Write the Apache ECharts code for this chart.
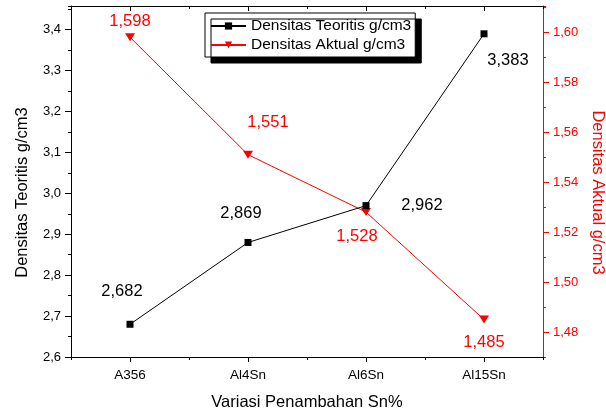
<!DOCTYPE html>
<html>
<head>
<meta charset="utf-8">
<style>
    html, body { margin: 0; padding: 0; background: #fff; }
    #chart { width: 606px; height: 414px; }
</style>
</head>
<body>
<div id="chart"></div>
<script src="https://cdn.jsdelivr.net/npm/echarts@6/dist/echarts.min.js"></script>
<script>
// 数据
const categories = ['A356', 'Al4Sn', 'Al6Sn', 'Al15Sn'];
const teoritisValues = [2.68, 2.88, 2.97, 3.39];
const teoritisLabels = ['2,682', '2,869', '2,962', '3,383'];
const aktualValues = [1.598, 1.551, 1.528, 1.485];
const aktualLabels = ['1,598', '1,551', '1,528', '1,485'];
const leftTicks = [2.6, 2.7, 2.8, 2.9, 3.0, 3.1, 3.2, 3.3, 3.4];
const rightTicks = [1.48, 1.50, 1.52, 1.54, 1.56, 1.58, 1.60];

const FONT = 'Liberation Sans';
const RED = '#ff0000';
// 轴范围
const leftMin = 2.6, leftMax = 3.458;
const rightMin = 1.47, rightMax = 1.6105;

// 标签偏移（文字中心相对于点）
const teoOffsets = [[-8, -33], [-7, -29], [56, 0], [24, 27]];
const aktOffsets = [[0, -16], [20, -32], [-9, 24], [0, 23]];

let chart = echarts.init(document.getElementById('chart'));

// x轴：主刻度在类目中心，小刻度在边界
const xAxisBase = {
    type: 'category',
    data: categories,
    boundaryGap: true,
    axisLine: { show: false, lineStyle: { color: '#000', width: 1 } },
    axisTick: { show: true, length: 3, lineStyle: { color: '#000' } },
    axisLabel: { show: false },
    splitLine: { show: false }
};
let xBottom = echarts.util.merge({}, xAxisBase);
xBottom.position = 'bottom';
xBottom.axisLine.show = true;
xBottom.axisTick = { show: true, alignWithLabel: true, length: 5, lineStyle: { color: '#000' } };
xBottom.axisLabel = { show: true, color: '#000', fontFamily: FONT, fontSize: 13.5, margin: 11 };
xBottom.name = 'Variasi Penambahan Sn%';
xBottom.nameLocation = 'middle';
xBottom.nameGap = 37;
xBottom.nameTextStyle = { color: '#000', fontFamily: FONT, fontSize: 16.5 };

let xBottomMinor = echarts.util.merge({}, xAxisBase);
xBottomMinor.position = 'bottom';

let xTop = echarts.util.merge({}, xAxisBase);
xTop.position = 'top';
xTop.axisLine.show = true;
xTop.axisTick = { show: true, inside: true, alignWithLabel: true, length: 5, lineStyle: { color: '#000' } };

let xTopMinor = echarts.util.merge({}, xAxisBase);
xTopMinor.position = 'top';
xTopMinor.axisTick = { show: true, inside: true, length: 3, lineStyle: { color: '#000' } };

// y轴
const yLeft = {
    type: 'value',
    position: 'left',
    min: leftMin,
    max: leftMax,
    interval: 0.05,
    axisLine: { show: true, lineStyle: { color: '#000', width: 1 } },
    axisTick: { show: true, length: 3, lineStyle: { color: '#000' } },
    axisLabel: {
        customValues: leftTicks,
        color: '#000', fontFamily: FONT, fontSize: 13, margin: 10,
        formatter: v => v.toFixed(1).replace('.', ',')
    },
    splitLine: { show: false },
    name: 'Densitas Teoritis g/cm3',
    nameLocation: 'middle',
    nameRotate: 90,
    nameGap: 40,
    nameTextStyle: { color: '#000', fontFamily: FONT, fontSize: 16.5, padding: [0, 22, 0, 0] }
};
const yRight = {
    type: 'value',
    position: 'right',
    min: rightMin,
    max: rightMax,
    interval: 0.01,
    axisLine: { show: true, lineStyle: { color: RED, width: 1 } },
    axisTick: { show: true, length: 3, lineStyle: { color: RED } },
    axisLabel: {
        customValues: rightTicks,
        color: RED, fontFamily: FONT, fontSize: 13, margin: 10,
        formatter: v => v.toFixed(2).replace('.', ',')
    },
    splitLine: { show: false },
    name: 'Densitas Aktual g/cm3',
    nameLocation: 'middle',
    nameRotate: -90,
    nameGap: 43,
    nameTextStyle: { color: RED, fontFamily: FONT, fontSize: 16.5, padding: [0, 0, 0, 22] }
};
// 主刻度（长）覆盖轴
const yLeftMajor = {
    type: 'value', position: 'left', min: leftMin, max: leftMax,
    axisLine: { show: false },
    axisTick: { show: true, length: 6, customValues: leftTicks, lineStyle: { color: '#000' } },
    axisLabel: { show: false },
    splitLine: { show: false }
};
const yRightMajor = {
    type: 'value', position: 'right', min: rightMin, max: rightMax,
    axisLine: { show: false },
    axisTick: { show: true, length: 6, customValues: rightTicks, lineStyle: { color: RED } },
    axisLabel: { show: false },
    splitLine: { show: false }
};

let option = {
    animation: false,
    backgroundColor: '#fff',
    // 固定绘图区，不让轴名挤压
    grid: { left: 71, right: 63, top: 6, bottom: 57, containLabel: false, outerBoundsMode: 'none' },
    legend: {
        data: ['Densitas Teoritis g/cm3', 'Densitas Aktual g/cm3'],
        orient: 'vertical',
        left: 205,
        top: 13,
        backgroundColor: '#fff',
        borderColor: '#000',
        borderWidth: 1,
        borderRadius: 0,
        shadowColor: '#000',
        shadowBlur: 0,
        shadowOffsetX: 6,
        shadowOffsetY: 6,
        padding: [4, 4, 3, 5],
        itemGap: 1,
        itemWidth: 35,
        itemHeight: 9,
        textStyle: { color: '#000', fontFamily: FONT, fontSize: 15.5, lineHeight: 18 }
    },
    xAxis: [xBottom, xBottomMinor, xTop, xTopMinor],
    yAxis: [yLeft, yRight, yLeftMajor, yRightMajor],
    series: [
        {
            name: 'Densitas Teoritis g/cm3',
            type: 'line',
            xAxisIndex: 0,
            yAxisIndex: 0,
            z: 3,
            symbol: 'rect',
            symbolSize: 7,
            lineStyle: { color: '#000', width: 1 },
            itemStyle: { color: '#000' },
            label: {
                show: true, position: 'inside',
                color: '#000', fontFamily: FONT, fontSize: 16.5,
                formatter: p => teoritisLabels[p.dataIndex]
            },
            data: teoritisValues.map((v, i) => ({ value: v, label: { offset: teoOffsets[i] } }))
        },
        {
            name: 'Densitas Aktual g/cm3',
            type: 'line',
            xAxisIndex: 0,
            yAxisIndex: 1,
            z: 2,
            symbol: 'triangle',
            symbolRotate: 180,
            symbolSize: [10, 8],
            lineStyle: { color: RED, width: 1 },
            itemStyle: { color: RED },
            label: {
                show: true, position: 'inside',
                color: RED, fontFamily: FONT, fontSize: 16.5,
                formatter: p => aktualLabels[p.dataIndex]
            },
            data: aktualValues.map((v, i) => ({ value: v, label: { offset: aktOffsets[i] } }))
        }
    ]
};

chart.setOption(option);
</script>
</body>
</html>
